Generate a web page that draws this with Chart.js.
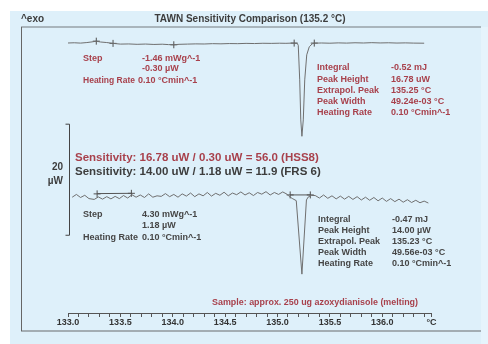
<!DOCTYPE html>
<html>
<head>
<meta charset="utf-8">
<script src="https://cdn.jsdelivr.net/npm/chart.js@4/dist/chart.umd.min.js"></script>
<style>
  html, body { margin: 0; padding: 0; background: #ffffff; }
  canvas { display: block; }
</style>
</head>
<body>
<canvas id="dsc" width="488" height="344"></canvas>
<script>
// ---- temperature axis (°C) ----
const X_MIN = 133.0;
const X_MAX = 136.47;
const majorTicks = [133.0, 133.5, 134.0, 134.5, 135.0, 135.5, 136.0];
const tickLabels = ['133.0', '133.5', '134.0', '134.5', '135.0', '135.5', '136.0'];
const axisUnit = '°C';

// ---- HSS8 sensor curve (upper), heat flow in µW ----
const HSS8_BASE = 48.60;
const HSS8_PEAK = 16.78;
const hss8T = [133.00, 133.06, 133.12, 133.18, 133.23, 133.27, 133.31, 133.37, 133.43, 133.50,
  133.58, 133.66, 133.74, 133.82, 133.90, 133.96, 134.01, 134.06, 134.14, 134.22,
  134.30, 134.38, 134.46, 134.54, 134.62, 134.70, 134.78, 134.86, 134.94, 135.02,
  135.08, 135.14, 135.188, 135.198, 135.212, 135.222, 135.233, 135.246, 135.260,
  135.279, 135.303, 135.332, 135.351, 135.42, 135.50, 135.58, 135.66, 135.74,
  135.82, 135.90, 135.98, 136.06, 136.14, 136.22, 136.30, 136.40];
const hss8W = [48.62, 48.66, 48.60, 48.70, 48.82, 48.95, 48.80, 48.70, 48.55, 48.42,
  48.45, 48.38, 48.43, 48.36, 48.40, 48.33, 48.30, 48.38, 48.42, 48.46,
  48.44, 48.50, 48.47, 48.52, 48.50, 48.55, 48.52, 48.57, 48.55, 48.58,
  48.56, 48.60, 48.56, 48.20, 41.98, 34.77, HSS8_BASE - HSS8_PEAK, 34.77, 41.98,
  46.49, 47.93, 48.47, 48.59, 48.62, 48.58, 48.64, 48.60, 48.66,
  48.62, 48.68, 48.63, 48.66, 48.61, 48.64, 48.60, 48.58];

// ---- FRS 6 sensor curve (lower), heat flow in µW ----
const FRS6_BASE = 21.00;
const FRS6_PEAK = 14.00;
const frs6T = [133.04, 133.08, 133.12, 133.16, 133.20, 133.25, 133.29, 133.33, 133.37, 133.41,
  133.45, 133.49, 133.53, 133.57, 133.61, 133.65, 133.69, 133.73, 133.77, 133.81,
  133.85, 133.89, 133.93, 133.97, 134.01, 134.05, 134.09, 134.13, 134.17, 134.21,
  134.25, 134.29, 134.33, 134.37, 134.41, 134.45, 134.49, 134.53, 134.57, 134.61,
  134.65, 134.69, 134.73, 134.77, 134.81, 134.85, 134.89, 134.93, 134.97, 135.01,
  135.05, 135.09, 135.111, 135.140, 135.179, 135.233, 135.276, 135.294, 135.322, 135.36,
  135.40, 135.44, 135.48, 135.52, 135.56, 135.60, 135.64, 135.68, 135.72, 135.76,
  135.80, 135.84, 135.88, 135.92, 135.96, 136.00, 136.04, 136.08, 136.12, 136.16,
  136.20, 136.24, 136.28, 136.32, 136.36, 136.40, 136.44];
const frs6W = [20.85, 21.35, 20.80, 21.20, 20.60, 20.45, 20.90, 20.50, 20.95, 20.55,
  21.00, 20.60, 21.15, 20.70, 21.30, 20.85, 21.25, 20.80, 21.45, 20.85,
  21.10, 21.00, 21.50, 20.95, 21.35, 20.85, 21.45, 21.05, 21.60, 20.95,
  21.45, 21.10, 21.70, 21.05, 21.55, 21.20, 21.75, 21.10, 21.60, 21.30,
  21.80, 21.25, 21.65, 21.15, 21.70, 21.40, 21.85, 21.25, 21.70, 21.35,
  21.80, 21.40, 20.99, 20.63, 20.23, FRS6_BASE - FRS6_PEAK, 20.36, 20.90, 21.17, 21.15,
  20.70, 21.25, 20.65, 21.10, 20.55, 21.05, 20.50, 21.00, 20.45, 20.95,
  20.35, 20.85, 20.30, 20.80, 20.20, 20.70, 20.10, 20.60, 20.05, 20.50,
  19.95, 20.40, 19.90, 20.30, 19.85, 20.15, 19.80];

// ---- evaluation limits (°C, µW) ----
const hss8LimitT = [133.27, 133.43, 134.01, 135.159, 135.351];
const hss8LimitW = [48.95, 48.55, 48.30, 48.60, 48.60];
const frs6LimitT = [133.278, 133.605, 135.121, 135.313];
const frs6LimitW = [21.45, 21.55, 21.26, 21.26];
const frs6StepLineT = [133.278, 133.605];
const frs6StepLineW = [21.50, 21.55];
const frs6PeakLineT = [135.121, 135.313];
const frs6PeakLineW = [21.26, 21.26];

// ---- scale bar (µW) ----
const scaleBarFrom = 14;
const scaleBarTo = 34;

// ---- texts ----
const titleText = 'TAWN Sensitivity Comparison (135.2 °C)';
const exoText = '^exo';
const hss8StepLabels = ['Step', '', 'Heating Rate'];
const hss8StepValues = ['-1.46 mWg^-1', '-0.30 µW', '0.10 °Cmin^-1'];
const hss8PeakLabels = ['Integral', 'Peak Height', 'Extrapol. Peak', 'Peak Width', 'Heating Rate'];
const hss8PeakValues = ['-0.52 mJ', '16.78 uW', '135.25 °C', '49.24e-03 °C', '0.10 °Cmin^-1'];
const frs6StepLabels = ['Step', '', 'Heating Rate'];
const frs6StepValues = ['4.30 mWg^-1', '1.18 µW', '0.10 °Cmin^-1'];
const frs6PeakLabels = ['Integral', 'Peak Height', 'Extrapol. Peak', 'Peak Width', 'Heating Rate'];
const frs6PeakValues = ['-0.47 mJ', '14.00 µW', '135.23 °C', '49.56e-03 °C', '0.10 °Cmin^-1'];
const sensitivityHSS8 = 'Sensitivity: 16.78 uW / 0.30 uW = 56.0 (HSS8)';
const sensitivityFRS6 = 'Sensitivity: 14.00 uW / 1.18 uW = 11.9 (FRS 6)';
const sampleText = 'Sample: approx. 250 ug azoxydianisole (melting)';
const scaleBarText = ['20', 'µW'];

const RED = '#a8414c';
const DARK = '#3d3d3d';
const GREY_TEXT = '#464646';
const CURVE = '#6f6f6f';
const FONT = '"Liberation Sans", Arial, sans-serif';

const pts = (xs, ys) => xs.map((x, i) => ({ x, y: ys[i] }));

function put(ctx, str, x, y, size, color, opts = {}) {
  ctx.save();
  ctx.font = (opts.weight || 'bold') + ' ' + size + 'px ' + FONT;
  ctx.fillStyle = color;
  ctx.textAlign = opts.align || 'left';
  ctx.textBaseline = 'middle';
  if (opts.maxWidth) ctx.fillText(str, x, y, opts.maxWidth);
  else ctx.fillText(str, x, y);
  ctx.restore();
}

const decor = {
  id: 'decor',
  beforeDraw(chart) {
    const ctx = chart.ctx;
    ctx.save();
    ctx.fillStyle = '#ffffff';
    ctx.fillRect(0, 0, 488, 344);
    ctx.fillStyle = '#def0fa';
    ctx.fillRect(10, 11, 478, 333);
    ctx.fillStyle = '#e6f4fc';
    ctx.fillRect(481, 27, 7, 317);
    // frame
    ctx.strokeStyle = '#a9b5bc';
    ctx.lineWidth = 2;
    ctx.beginPath(); ctx.moveTo(21, 27); ctx.lineTo(481, 27); ctx.stroke();
    ctx.strokeStyle = '#a3adb3';
    ctx.beginPath(); ctx.moveTo(21, 331); ctx.lineTo(481, 331); ctx.stroke();
    ctx.strokeStyle = '#666666';
    ctx.lineWidth = 1;
    ctx.beginPath(); ctx.moveTo(21.5, 27); ctx.lineTo(21.5, 331); ctx.stroke();
    ctx.restore();
  },
  afterDraw(chart) {
    const ctx = chart.ctx;
    const xs = chart.scales.x, ys = chart.scales.y;

    put(ctx, exoText, 21, 19, 10, DARK);
    put(ctx, titleText, 250, 19, 10, DARK, { align: 'center' });

    // scale bar
    const bx = Math.round(xs.getPixelForValue(X_MIN)) + 1.5;
    const y1 = ys.getPixelForValue(scaleBarTo), y2 = ys.getPixelForValue(scaleBarFrom);
    ctx.save();
    ctx.strokeStyle = '#444';
    ctx.lineWidth = 1;
    ctx.beginPath();
    ctx.moveTo(bx - 4, y1); ctx.lineTo(bx, y1); ctx.lineTo(bx, y2); ctx.lineTo(bx - 4, y2);
    ctx.stroke();
    ctx.restore();
    put(ctx, scaleBarText[0], 63, 167, 10, DARK, { align: 'right' });
    put(ctx, scaleBarText[1], 63, 181, 10, DARK, { align: 'right' });

    // step evaluation HSS8
    const hRows = [59, 69, 81];
    hss8StepLabels.forEach((t, i) => t && put(ctx, t, 83, hRows[i], 9, RED, { maxWidth: 52 }));
    hss8StepValues.forEach((t, i) => put(ctx, t, i === 2 ? 138 : 142, hRows[i], 9, RED));
    // peak evaluation HSS8
    hss8PeakLabels.forEach((t, i) => put(ctx, t, 317, 68 + i * 11.25, 9, RED));
    hss8PeakValues.forEach((t, i) => put(ctx, t, 391, 68 + i * 11.25, 9, RED));

    // sensitivity summary
    put(ctx, sensitivityHSS8, 75, 158, 11.5, RED, { maxWidth: 247 });
    put(ctx, sensitivityFRS6, 75, 172, 11.5, DARK, { maxWidth: 247 });

    // step evaluation FRS 6
    const fRows = [215, 226, 238];
    frs6StepLabels.forEach((t, i) => t && put(ctx, t, 83, fRows[i], 9, GREY_TEXT, { maxWidth: 55 }));
    frs6StepValues.forEach((t, i) => put(ctx, t, 142, fRows[i], 9, GREY_TEXT));
    // peak evaluation FRS 6
    frs6PeakLabels.forEach((t, i) => put(ctx, t, 318, 220 + i * 11, 9, GREY_TEXT));
    frs6PeakValues.forEach((t, i) => put(ctx, t, 392, 220 + i * 11, 9, GREY_TEXT));

    put(ctx, sampleText, 212, 303, 9, RED, { maxWidth: 206 });
  }
};

const lineStyle = { borderColor: CURVE, borderWidth: 1, pointRadius: 0, tension: 0, fill: false };
const markStyle = { showLine: false, pointStyle: 'cross', pointRadius: 3.5, pointBorderColor: '#505050', pointBorderWidth: 1 };

new Chart(document.getElementById('dsc'), {
  type: 'line',
  data: {
    datasets: [
      { label: 'HSS8', data: pts(hss8T, hss8W), ...lineStyle },
      { label: 'FRS 6', data: pts(frs6T, frs6W), ...lineStyle },
      { label: 'FRS 6 step', data: pts(frs6StepLineT, frs6StepLineW), ...lineStyle, borderColor: '#555' },
      { label: 'FRS 6 peak', data: pts(frs6PeakLineT, frs6PeakLineW), ...lineStyle, borderColor: '#555' },
      { label: 'HSS8 limits', data: pts(hss8LimitT, hss8LimitW), ...markStyle },
      { label: 'FRS 6 limits', data: pts(frs6LimitT, frs6LimitW), ...markStyle }
    ]
  },
  options: {
    responsive: false,
    devicePixelRatio: 1,
    animation: false,
    events: [],
    layout: { padding: { left: 68, right: 488 - 431.5, top: 27, bottom: 0 } },
    plugins: { legend: { display: false }, tooltip: { enabled: false }, title: { display: false } },
    scales: {
      x: {
        type: 'linear',
        min: X_MIN,
        max: X_MAX,
        position: 'bottom',
        afterBuildTicks(scale) {
          const t = [];
          for (let k = 0; k <= 34; k++) t.push({ value: +(X_MIN + k * 0.1).toFixed(1) });
          t.push({ value: X_MAX });
          scale.ticks = t;
        },
        afterFit(scale) { scale.height = 31; },
        grid: { display: true, drawOnChartArea: false, drawTicks: true, tickLength: 4, color: '#555', lineWidth: 1 },
        border: { display: true, color: '#555', width: 1 },
        ticks: {
          autoSkip: false, maxRotation: 0, minRotation: 0, padding: 0,
          color: '#333',
          font: { family: FONT, size: 9, weight: 'bold' },
          callback(v) {
            const i = majorTicks.findIndex(m => Math.abs(m - v) < 1e-6);
            if (i >= 0) return tickLabels[i];
            if (Math.abs(v - X_MAX) < 1e-6) return axisUnit;
            return '';
          }
        }
      },
      y: { type: 'linear', display: false, min: 0, max: 51.5 }
    }
  },
  plugins: [decor]
});
</script>
</body>
</html>
